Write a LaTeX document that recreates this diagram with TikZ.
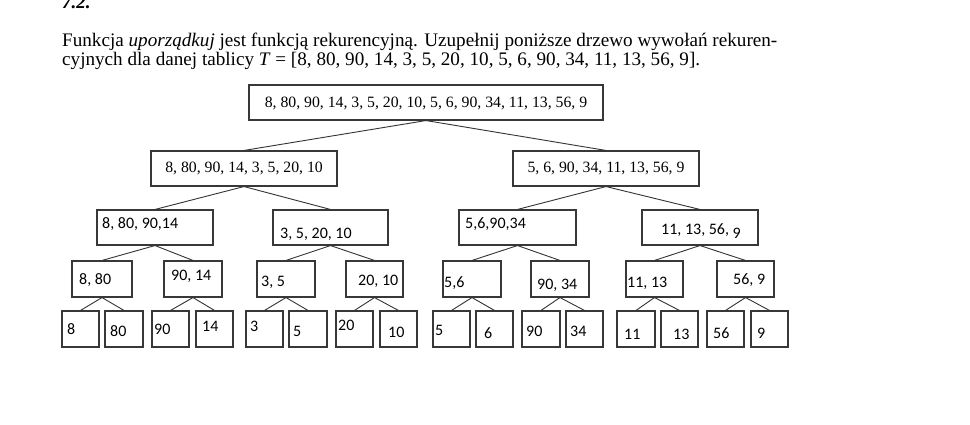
\documentclass[tikz,border=0pt]{standalone}
\usepackage{fontspec}
\setmainfont{Liberation Serif}
\newfontfamily\calfont{Carlito}
\tikzset{
  box/.style={draw=black!78, line width=1.1pt, inner sep=0pt, fill=white},
  con/.style={draw=black!80, line width=0.9pt},
  ser/.style={inner sep=0pt, font=\fontsize{15.75}{18}\selectfont},
  st/.style={inner sep=0pt, anchor=base west, font=\calfont\fontsize{16}{19}\selectfont},
  para/.style={inner sep=0pt, anchor=base west}
}
\newcommand\bx[5]{\node[box, minimum width={#4-#2}, minimum height={#5-#3}] (#1) at ({(#2+#4)/2},{(#3+#5)/2}) {};}
\begin{document}
\begin{tikzpicture}[x=1pt,y=-1pt]
\useasboundingbox (0,0) rectangle (970,425);
% heading and paragraph
\node[para, font=\fontsize{19}{22}\selectfont\bfseries\itshape] (head) at (62,9) {7.2.};
\node[para] (l1) at (62,47) {\resizebox{715pt}{!}{Funkcja \textit{uporządkuj} jest funkcją rekurencyjną. Uzupełnij poniższe drzewo wywołań rekuren-}};
\node[para] (l2) at (62,66) {\resizebox{638pt}{!}{cyjnych dla danej tablicy \textit{T} = [8, 80, 90, 14, 3, 5, 20, 10, 5, 6, 90, 34, 11, 13, 56, 9].}};
% level 0
\bx{r}{249}{85}{603}{120}
\node[ser, anchor=base] (rt) at (426,108) {8, 80, 90, 14, 3, 5, 20, 10, 5, 6, 90, 34, 11, 13, 56, 9};
% level 1
\bx{a}{151}{151}{337}{186}
\node[ser, anchor=base] (at) at (244,173) {8, 80, 90, 14, 3, 5, 20, 10};
\bx{b}{513}{151}{699}{186}
\node[ser, anchor=base] (bt) at (606,173) {5, 6, 90, 34, 11, 13, 56, 9};
% level 2
\bx{aa}{97}{210}{213}{245}
\node[st] (aat) at (102,229) {8, 80, 90,14};
\bx{ab}{273}{210}{388}{245}
\node[st] (abt) at (280,239) {3, 5, 20, 10};
\bx{ba}{459}{210}{576}{245}
\node[st] (bat) at (465,229) {5,6,90,34};
\bx{bb}{642}{210}{758}{245}
\node[st] (bbt) at (661,234) {11, 13, 56, \raisebox{-4pt}{9}};
% level 3
\bx{c1}{72}{261}{132}{297}
\node[st] (c1t) at (79,284) {8, 80};
\bx{c2}{164}{261}{222}{297}
\node[st] (c2t) at (171,280) {90, 14};
\bx{c3}{257}{261}{315}{297}
\node[st] (c3t) at (261,286) {3, 5};
\bx{c4}{346}{261}{403}{297}
\node[st] (c4t) at (358,285) {20, 10};
\bx{c5}{443}{261}{501}{297}
\node[st] (c5t) at (444,287) {5,6};
\bx{c6}{531}{261}{589}{297}
\node[st] (c6t) at (537,289) {90, 34};
\bx{c7}{626}{261}{683}{297}
\node[st] (c7t) at (627,287) {11, 13};
\bx{c8}{717}{261}{774}{297}
\node[st] (c8t) at (733,284) {56, 9};
% level 4
\bx{d1}{62}{311}{99}{347}   \node[st] (d1t) at (67,334) {8};
\bx{d2}{105}{311}{143}{347} \node[st] (d2t) at (110,336) {80};
\bx{d3}{152}{311}{189}{347} \node[st] (d3t) at (154,334) {90};
\bx{d4}{196}{311}{233}{347} \node[st] (d4t) at (202,331) {14};
\bx{d5}{246}{311}{283}{347} \node[st] (d5t) at (250,331) {3};
\bx{d6}{289}{311}{327}{347} \node[st] (d6t) at (293,336) {5};
\bx{d7}{336}{311}{373}{347} \node[st] (d7t) at (338,330) {20};
\bx{d8}{380}{311}{417}{347} \node[st] (d8t) at (388,337) {10};
\bx{d9}{433}{311}{470}{347} \node[st] (d9t) at (435,335) {5};
\bx{d10}{476}{311}{513}{347} \node[st] (d10t) at (484,338) {6};
\bx{d11}{522}{311}{560}{347} \node[st] (d11t) at (526,336) {90};
\bx{d12}{566}{311}{603}{347} \node[st] (d12t) at (570,336) {34};
\bx{d13}{617}{311}{655}{347} \node[st] (d13t) at (624,339) {11};
\bx{d14}{661}{311}{698}{347} \node[st] (d14t) at (673,339) {13};
\bx{d15}{707}{311}{744}{347} \node[st] (d15t) at (713,338) {56};
\bx{d16}{751}{311}{788}{347} \node[st] (d16t) at (757,338) {9};
% connectors
\draw[con] (r.south) -- (a.north);
\draw[con] (r.south) -- (b.north);
\draw[con] (a.south) -- (aa.north);
\draw[con] (a.south) -- (ab.north);
\draw[con] (b.south) -- (ba.north);
\draw[con] (b.south) -- (bb.north);
\draw[con] (aa.south) -- (c1.north);
\draw[con] (aa.south) -- (c2.north);
\draw[con] (ab.south) -- (c3.north);
\draw[con] (ab.south) -- (c4.north);
\draw[con] (ba.south) -- (c5.north);
\draw[con] (ba.south) -- (c6.north);
\draw[con] (bb.south) -- (c7.north);
\draw[con] (bb.south) -- (c8.north);
\draw[con] (c1.south) -- (d1.north);
\draw[con] (c1.south) -- (d2.north);
\draw[con] (c2.south) -- (d3.north);
\draw[con] (c2.south) -- (d4.north);
\draw[con] (c3.south) -- (d5.north);
\draw[con] (c3.south) -- (d6.north);
\draw[con] (c4.south) -- (d7.north);
\draw[con] (c4.south) -- (d8.north);
\draw[con] (c5.south) -- (d9.north);
\draw[con] (c5.south) -- (d10.north);
\draw[con] (c6.south) -- (d11.north);
\draw[con] (c6.south) -- (d12.north);
\draw[con] (c7.south) -- (d13.north);
\draw[con] (c7.south) -- (d14.north);
\draw[con] (c8.south) -- (d15.north);
\draw[con] (c8.south) -- (d16.north);
\end{tikzpicture}
\end{document}
